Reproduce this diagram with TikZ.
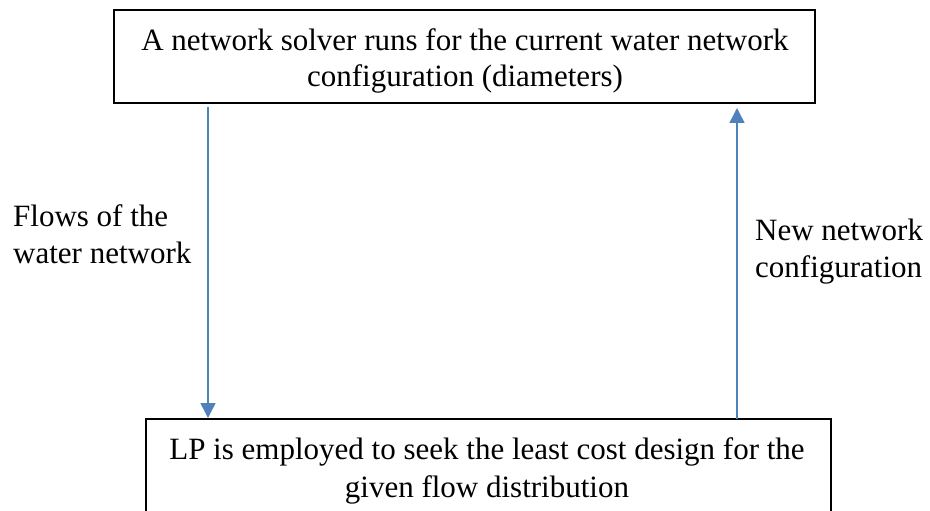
\documentclass[tikz,border=0pt]{standalone}
\usepackage{fontspec}
\setmainfont{Liberation Serif}
\usetikzlibrary{arrows.meta}
\definecolor{flowblue}{HTML}{4F81BD}
\begin{document}
\begin{tikzpicture}[x=1pt,y=-1pt,
  stepbox/.style={draw=black,line width=1.6pt},
  boxtext/.style={align=center,inner sep=0pt},
  sidetext/.style={align=left,font=\fontsize{31}{37}\selectfont,inner sep=0pt,anchor=west},
  flow/.style={draw=flowblue,line width=1.5pt,-{Triangle[length=15pt,width=15pt]}}]
\useasboundingbox (0,0) rectangle (930,511);
\begin{scope}
\clip (0,0) rectangle (930,511);
% solver box
\draw[stepbox] (114,10) rectangle (815,103);
\node[boxtext,font=\fontsize{31}{36}\selectfont] (solver) at (465,61) {A network solver runs for the current water network\\configuration (diameters)};
% LP box (runs past the lower edge)
\draw[stepbox] (146,419) rectangle (831,540);
\node[boxtext,font=\fontsize{31}{38}\selectfont] (lp) at (487,471) {LP is employed to seek the least cost design for the\\given flow distribution};
\end{scope}
\coordinate (downA) at (208,107);
\coordinate (downB) at (208,418);
\coordinate (upA) at (737,419);
\coordinate (upB) at (737,108);
\draw[flow] (downA) -- (downB);
\draw[flow] (upA) -- (upB);
\node[sidetext] (flows) at (13,234) {Flows of the\\water network};
\node[sidetext] (newcfg) at (755,252) {New network\\configuration};
\end{tikzpicture}
\end{document}
